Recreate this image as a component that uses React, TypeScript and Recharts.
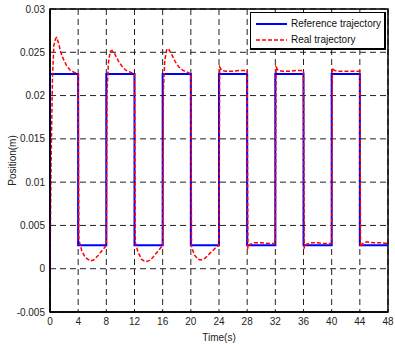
import { LineChart, Line, XAxis, YAxis, CartesianGrid, ReferenceArea } from "recharts";

// reference square wave (time in s, position in m)
const refTime = [0, 0, 4, 4, 8, 8, 12, 12, 16, 16, 20, 20, 24, 24, 28, 28, 32, 32, 36, 36, 40, 40, 44, 44, 48];
const refPos = [0, 0.0225, 0.0225, 0.0027, 0.0027, 0.0225, 0.0225, 0.0027, 0.0027, 0.0225, 0.0225, 0.0027, 0.0027, 0.0225, 0.0225, 0.0027, 0.0027, 0.0225, 0.0225, 0.0027, 0.0027, 0.0225, 0.0225, 0.0027, 0.0027];

// measured response
const realTime = [
  0, 0.15, 0.35, 0.55, 0.8, 0.95, 1.2, 1.5, 1.9, 2.4, 2.9, 3.4, 4.0,
  4.1, 4.5, 5.0, 5.7, 6.2, 6.8, 7.4, 8.0,
  8.1, 8.3, 8.55, 8.8, 9.2, 9.7, 10.2, 10.8, 11.4, 12.0,
  12.1, 12.5, 13.0, 13.5, 14.0, 14.5, 15.0, 15.5, 16.0,
  16.1, 16.3, 16.6, 16.9, 17.3, 17.8, 18.3, 18.9, 19.5, 20.0,
  20.1, 20.5, 21.0, 21.4, 22.0, 22.5, 23.0, 23.5, 24.0,
  24.1, 24.4, 25.0, 26.0, 27.0, 28.0,
  28.1, 28.4, 29.0, 30.0, 31.0, 32.0,
  32.1, 32.4, 33.0, 34.0, 35.0, 36.0,
  36.1, 36.4, 37.0, 38.0, 39.0, 40.0,
  40.1, 40.4, 41.0, 42.0, 43.0, 44.0,
  44.1, 44.4, 45.0, 46.0, 47.0, 48.0,
];
const realPos = [
  0, 0.012, 0.022, 0.0258, 0.0266, 0.0267, 0.0261, 0.0251, 0.0242, 0.0234, 0.0229, 0.0227, 0.0225,
  0.0033, 0.0021, 0.0013, 0.0009, 0.001, 0.0015, 0.0021, 0.0027,
  0.0205, 0.0238, 0.0251, 0.0252, 0.0248, 0.024, 0.0234, 0.0229, 0.0227, 0.0225,
  0.0031, 0.0019, 0.0011, 0.0008, 0.0009, 0.0012, 0.0017, 0.0022, 0.0027,
  0.0205, 0.0241, 0.0254, 0.0253, 0.0247, 0.0239, 0.0233, 0.0229, 0.0227, 0.0225,
  0.0025, 0.0016, 0.0011, 0.001, 0.0012, 0.0016, 0.002, 0.0024, 0.0027,
  0.0233, 0.0229, 0.0228, 0.0228, 0.0229, 0.0229,
  0.0024, 0.0028, 0.003, 0.003, 0.0029, 0.0029,
  0.0233, 0.0229, 0.0228, 0.0228, 0.0229, 0.0229,
  0.0024, 0.0028, 0.003, 0.003, 0.0029, 0.0029,
  0.0232, 0.0229, 0.0228, 0.0228, 0.0228, 0.0228,
  0.0025, 0.0029, 0.0031, 0.003, 0.003, 0.0029,
];

const xTicks = [0, 4, 8, 12, 16, 20, 24, 28, 32, 36, 40, 44, 48];
const yTicks = [-0.005, 0, 0.005, 0.01, 0.015, 0.02, 0.025, 0.03];

const refData = refTime.map((t, i) => ({ t, y: refPos[i] }));
const realData = realTime.map((t, i) => ({ t, y: realPos[i] }));

const font = "'Liberation Sans', Arial, sans-serif";
const tickStyle = { fontSize: 10, fill: "#222", fontFamily: font };

function LegendBox() {
  return (
    <div
      style={{
        position: "absolute",
        left: 250,
        top: 12,
        width: 136,
        height: 38,
        boxSizing: "border-box",
        border: "1px solid #000",
        borderWidth: "1px 2px 2px 1px",
        background: "#fff",
        fontFamily: font,
        fontSize: 10,
        color: "#111",
        padding: "3px 0 0 5px",
        lineHeight: "16px",
        whiteSpace: "nowrap",
      }}
    >
      <div style={{ display: "flex", alignItems: "center" }}>
        <svg width={31} height={6} style={{ marginRight: 4 }}>
          <line x1={0} y1={3} x2={31} y2={3} stroke="#0000ff" strokeWidth={2} />
        </svg>
        Reference trajectory
      </div>
      <div style={{ display: "flex", alignItems: "center" }}>
        <svg width={31} height={6} style={{ marginRight: 4 }}>
          <line x1={0} y1={3} x2={31} y2={3} stroke="#ff0000" strokeWidth={1.5} strokeDasharray="4 2" />
        </svg>
        Real trajectory
      </div>
    </div>
  );
}

export default function App() {
  return (
    <div style={{ position: "absolute", left: 0, top: 0, width: 395, height: 344, background: "#fff" }}>
      <LineChart width={395} height={344} margin={{ top: 9, right: 7, bottom: 0, left: 0 }}>
        <CartesianGrid stroke="#222" strokeDasharray="6 4" />
        <XAxis
          dataKey="t"
          type="number"
          domain={[0, 48]}
          ticks={xTicks}
          height={32}
          tick={tickStyle}
          tickLine={false}
          tickSize={3}
          tickMargin={3}
          axisLine={{ stroke: "#000", strokeWidth: 1.5 }}
          label={{ value: "Time(s)", position: "insideBottom", offset: 3, style: tickStyle }}
        />
        <YAxis
          type="number"
          domain={[-0.005, 0.03]}
          ticks={yTicks}
          width={50}
          tick={tickStyle}
          tickLine={false}
          tickSize={3}
          tickMargin={2}
          tickFormatter={(v: number) => String(v)}
          axisLine={{ stroke: "#000", strokeWidth: 1.5 }}
          label={{ value: "Position(m)", angle: -90, position: "insideLeft", offset: 12, style: { ...tickStyle, textAnchor: "middle" } }}
        />
        <ReferenceArea x1={0} x2={48} y1={-0.005} y2={0.03} fill="none" stroke="#000" strokeWidth={1.5} />
        <Line data={refData} dataKey="y" type="linear" stroke="#0000ff" strokeWidth={2} dot={false} isAnimationActive={false} name="Reference trajectory" />
        <Line data={realData} dataKey="y" type="linear" stroke="#ff0000" strokeWidth={1.5} strokeDasharray="4 2" dot={false} isAnimationActive={false} name="Real trajectory" />
      </LineChart>
      <LegendBox />
    </div>
  );
}
